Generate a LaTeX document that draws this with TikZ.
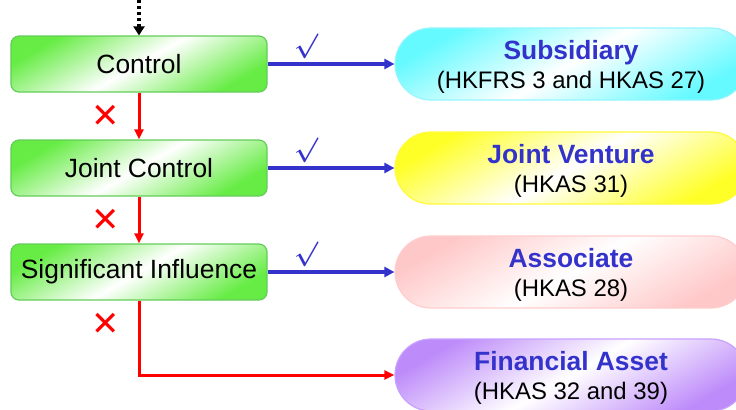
\documentclass[tikz,border=0pt]{standalone}
\usepackage{fontspec}
\usepackage{amsmath}
\setmainfont{Liberation Sans}
\newfontfamily\symfont{DejaVu Sans}
\usetikzlibrary{arrows.meta}
\definecolor{gfill}{RGB}{102,236,68}
\definecolor{gline}{RGB}{100,205,90}
\definecolor{cfill}{RGB}{100,250,255}
\definecolor{cline}{RGB}{150,245,255}
\definecolor{yfill}{RGB}{255,255,40}
\definecolor{yline}{RGB}{255,250,60}
\definecolor{pfill}{RGB}{255,200,200}
\definecolor{pline}{RGB}{255,205,205}
\definecolor{vfill}{RGB}{190,140,250}
\definecolor{vline}{RGB}{200,160,255}
\definecolor{tblue}{RGB}{51,51,204}
\tikzset{
  greenbox/.style={draw=gline, line width=1.2bp, rounded corners=8bp,
    minimum width=256bp, minimum height=56bp, inner sep=0pt,
    top color=gfill, bottom color=gfill, middle color=white, shading angle=30,
    font=\fontsize{26.5}{30}\selectfont},
  pill/.style 2 args={draw=#2, line width=1.2bp, rounded corners=36bp,
    minimum width=352bp, minimum height=72bp, inner sep=0pt,
    top color=#1, bottom color=#1, middle color=white, shading angle=30},
  ptext/.style={inner sep=0pt, align=center, yshift=-3bp,
    font=\fontsize{24}{29}\selectfont},
  bluearr/.style={draw=tblue, line width=3.2bp, -{Triangle[length=10bp,width=10bp]}},
  redarr/.style={draw=red, line width=3bp, -{Triangle[length=10bp,width=9bp]}},
  dotarr/.style={draw=black, line width=3.2bp, dash pattern=on 3bp off 3bp, -{Triangle[length=9bp,width=11bp]}},
  chk/.style={text=tblue, font=\fontsize{33}{33}\selectfont, inner sep=0pt},
  crs/.style={text=red, font=\symfont\fontsize{34}{34}\selectfont, inner sep=0pt},
}
\newcommand{\ttltext}[1]{{\fontsize{26.5}{29}\selectfont\bfseries\color{tblue}#1}}
\begin{document}
\begin{tikzpicture}[x=1bp,y=-1bp]
\useasboundingbox[fill=white] (0,0) rectangle (736,409);
\node[greenbox] (ctrl) at (139,64) {Control};
\node[greenbox] (jc) at (139,168) {Joint Control};
\node[greenbox] (si) at (139,272) {Significant Influence};
\node[pill={cfill}{cline}] (sub) at (571,64) {};
\node[pill={yfill}{yline}] (jv) at (571,168) {};
\node[pill={pfill}{pline}] (as) at (571,272) {};
\node[pill={vfill}{vline}] (fa) at (571,375) {};
\node[ptext] (subt) at (sub.center) {\ttltext{Subsidiary}\\(HKFRS 3 and HKAS 27)};
\node[ptext] (jvt) at (jv.center) {\ttltext{Joint Venture}\\(HKAS 31)};
\node[ptext] (ast) at (as.center) {\ttltext{Associate}\\(HKAS 28)};
\node[ptext] (fat) at (fa.center) {\ttltext{Financial Asset}\\(HKAS 32 and 39)};
\coordinate (top) at (139,0);
\draw[dotarr] (top) -- (ctrl.north);
\draw[bluearr] (ctrl) -- (sub);
\draw[bluearr] (jc) -- (jv);
\draw[bluearr] (si) -- (as);
\draw[redarr] (ctrl) -- (jc);
\draw[redarr] (jc) -- (si);
\draw[redarr] (si.south) |- (fa.west);
\node[chk] (c1) at (306,46) {$\boldsymbol{\surd}$};
\node[chk] (c2) at (306,150) {$\boldsymbol{\surd}$};
\node[chk] (c3) at (306,254) {$\boldsymbol{\surd}$};
\node[crs] (x1) at (106,116) {✕};
\node[crs] (x2) at (106,220) {✕};
\node[crs] (x3) at (106,324) {✕};
\end{tikzpicture}
\end{document}
